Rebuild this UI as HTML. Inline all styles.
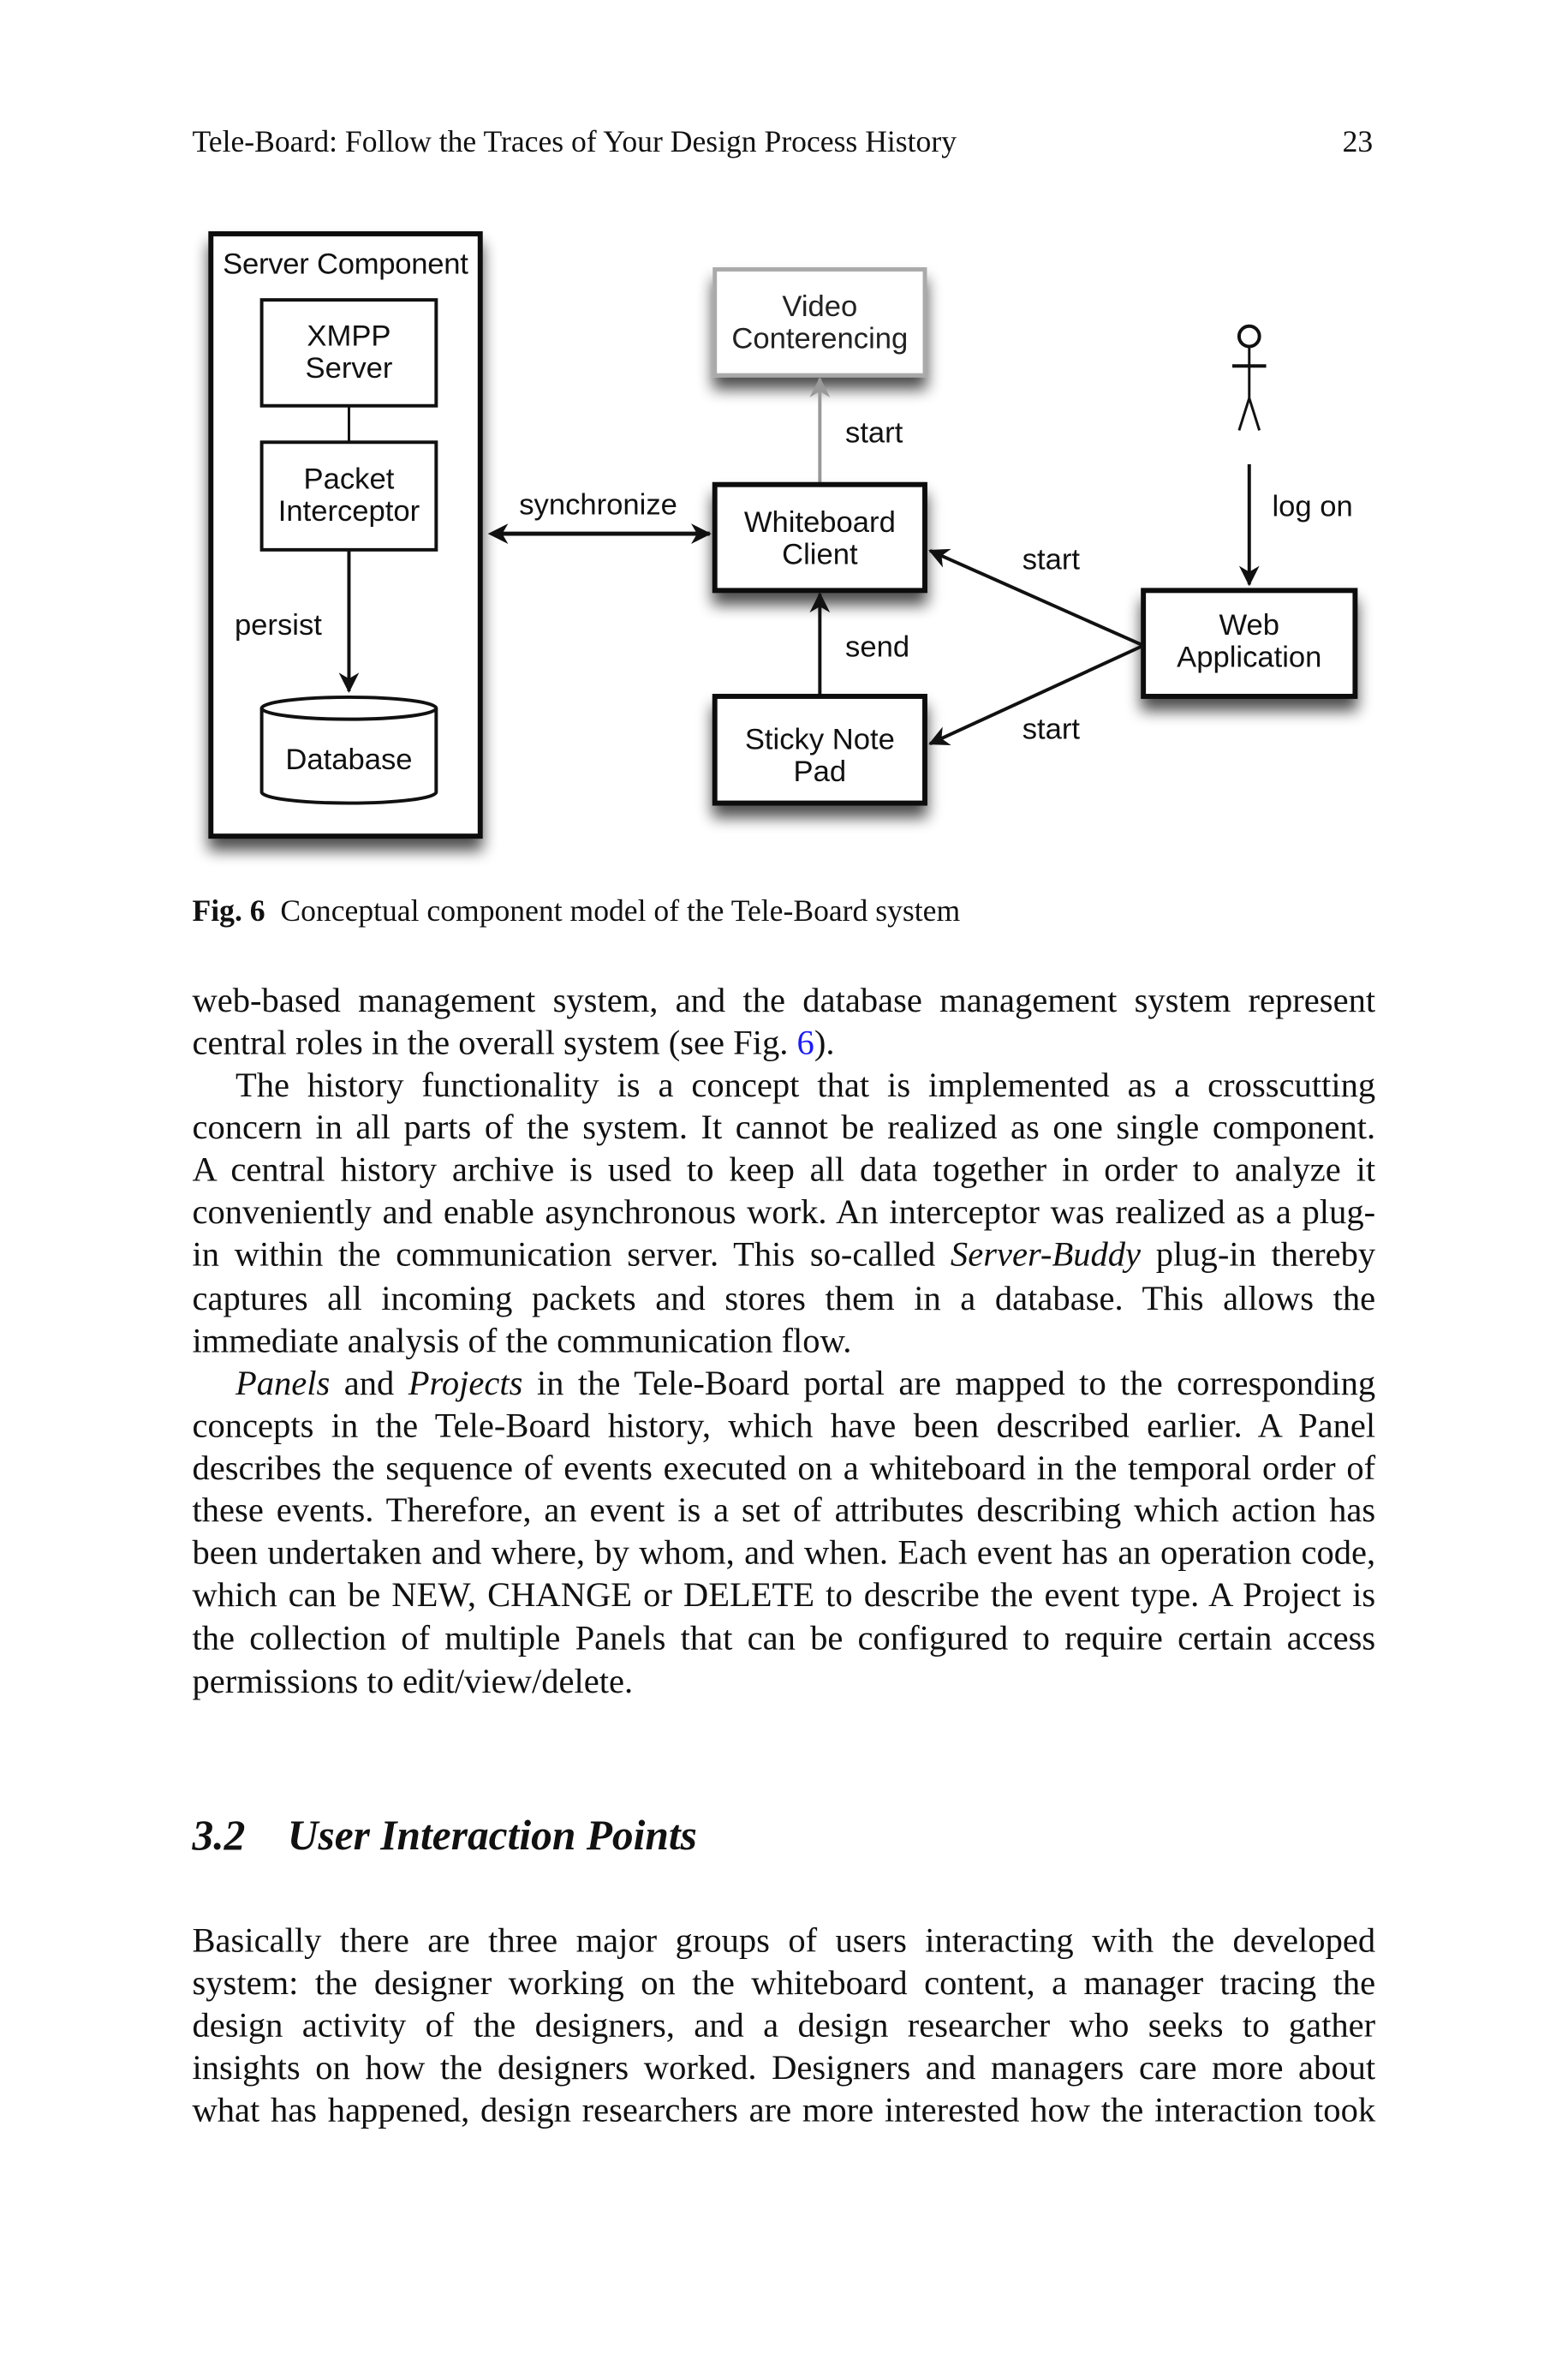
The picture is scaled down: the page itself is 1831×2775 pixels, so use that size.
<!DOCTYPE html>
<html><head><meta charset="utf-8"><style>
html,body{margin:0;padding:0;background:#fff;}
body{width:1831px;height:2775px;position:relative;overflow:hidden;font-family:"Liberation Serif",serif;color:#111;}
#w{position:absolute;left:0;top:0;width:1831px;height:2775px;transform:scale(0.989);transform-origin:0 0;}
.l{position:absolute;left:227px;width:1397px;font-size:41px;line-height:50px;height:50px;white-space:nowrap;text-align:justify;text-align-last:justify;}
.l.e{text-align-last:left;}
.i{text-indent:51px;}
.hd{position:absolute;font-size:36px;}
svg text{font-family:"Liberation Sans",sans-serif;font-size:35px;fill:#111;}
</style></head><body><div id="w">
<div class="hd" style="left:227px;top:146px;">Tele-Board: Follow the Traces of Your Design Process History</div>
<div class="hd" style="left:1585px;top:146px;">23</div>

<svg width="1831" height="1040" style="position:absolute;left:0;top:0" xmlns="http://www.w3.org/2000/svg">
<defs>
<filter id="sh" x="-20%" y="-20%" width="140%" height="150%"><feGaussianBlur in="SourceAlpha" stdDeviation="9"/><feOffset dx="0" dy="14"/><feComponentTransfer><feFuncA type="linear" slope="0.7"/></feComponentTransfer><feMerge><feMergeNode/><feMergeNode in="SourceGraphic"/></feMerge></filter>
<marker id="a" markerWidth="26" markerHeight="26" refX="22" refY="13" orient="auto" markerUnits="userSpaceOnUse"><path d="M0,1 L24,13 L0,25 L7,13 Z" fill="#111"/></marker>
<marker id="ag" markerWidth="26" markerHeight="26" refX="22" refY="13" orient="auto" markerUnits="userSpaceOnUse"><path d="M0,1 L24,13 L0,25 L7,13 Z" fill="#999"/></marker>
</defs>
<rect x="249" y="276" width="318" height="711" fill="#fff" stroke="#111" stroke-width="6" filter="url(#sh)"/>
<text x="263" y="323" textLength="290">Server Component</text>
<rect x="309" y="354" width="206" height="125" fill="#fff" stroke="#111" stroke-width="4"/>
<text x="412" y="408" text-anchor="middle">XMPP</text><text x="412" y="446" text-anchor="middle">Server</text>
<line x1="412" y1="479" x2="412" y2="522" stroke="#111" stroke-width="3"/>
<rect x="309" y="522" width="206" height="127" fill="#fff" stroke="#111" stroke-width="4"/>
<text x="412" y="577" text-anchor="middle">Packet</text><text x="412" y="615" text-anchor="middle">Interceptor</text>
<line x1="412" y1="649" x2="412" y2="816" stroke="#111" stroke-width="4" marker-end="url(#a)"/>
<text x="277" y="749">persist</text>
<path d="M309,836 L309,935 A103,13 0 0 0 515,935 L515,836" fill="#fff" stroke="#111" stroke-width="4"/>
<ellipse cx="412" cy="836" rx="103" ry="13" fill="#fff" stroke="#111" stroke-width="4"/>
<text x="412" y="908" text-anchor="middle">Database</text>

<rect x="844" y="318" width="248" height="125" fill="#fff" stroke="#aaa" stroke-width="5" filter="url(#sh)"/>
<text x="968" y="373" text-anchor="middle" style="fill:#222">Video</text><text x="968" y="411" text-anchor="middle" style="fill:#222">Conterencing</text>
<line x1="968" y1="572" x2="968" y2="447" stroke="#999" stroke-width="4" marker-end="url(#ag)"/>
<text x="998" y="522">start</text>

<line x1="584" y1="630" x2="838" y2="630" stroke="#111" stroke-width="5" marker-end="url(#a)"/>
<path d="M576,630 L600,618 L593,630 L600,642 Z" fill="#111"/>
<text x="613" y="607">synchronize</text>

<rect x="844" y="572" width="248" height="125" fill="#fff" stroke="#111" stroke-width="6" filter="url(#sh)"/>
<text x="968" y="628" text-anchor="middle">Whiteboard</text><text x="968" y="666" text-anchor="middle">Client</text>

<line x1="968" y1="822" x2="968" y2="701" stroke="#111" stroke-width="4" marker-end="url(#a)"/>
<text x="998" y="775">send</text>
<rect x="844" y="822" width="248" height="126" fill="#fff" stroke="#111" stroke-width="6" filter="url(#sh)"/>
<text x="968" y="884" text-anchor="middle">Sticky Note</text><text x="968" y="922" text-anchor="middle">Pad</text>

<rect x="1350" y="697" width="250" height="125" fill="#fff" stroke="#111" stroke-width="6" filter="url(#sh)"/>
<text x="1475" y="749" text-anchor="middle">Web</text><text x="1475" y="787" text-anchor="middle">Application</text>
<line x1="1350" y1="762" x2="1098" y2="650" stroke="#111" stroke-width="4" marker-end="url(#a)"/>
<line x1="1350" y1="762" x2="1098" y2="878" stroke="#111" stroke-width="4" marker-end="url(#a)"/>
<text x="1207" y="672">start</text>
<text x="1207" y="872">start</text>

<circle cx="1475" cy="397" r="12" fill="#fff" stroke="#111" stroke-width="4"/>
<line x1="1475" y1="409" x2="1475" y2="470" stroke="#111" stroke-width="3"/>
<line x1="1455" y1="432" x2="1495" y2="432" stroke="#111" stroke-width="4"/>
<line x1="1475" y1="470" x2="1463" y2="508" stroke="#111" stroke-width="3"/>
<line x1="1475" y1="470" x2="1487" y2="508" stroke="#111" stroke-width="3"/>
<line x1="1475" y1="548" x2="1475" y2="690" stroke="#111" stroke-width="4" marker-end="url(#a)"/>
<text x="1502" y="609">log on</text>
</svg>

<div class="hd" style="left:227px;top:1054px;"><b>Fig. 6</b>&nbsp;&nbsp;Conceptual component model of the Tele-Board system</div>

<div class="l" style="top:1155px">web-based management system, and the database management system represent</div>
<div class="l e" style="top:1205px">central roles in the overall system (see Fig. <span style="color:#1a1aff">6</span>).</div>
<div class="l i" style="top:1255px">The history functionality is a concept that is implemented as a crosscutting</div>
<div class="l" style="top:1305px">concern in all parts of the system. It cannot be realized as one single component.</div>
<div class="l" style="top:1355px">A central history archive is used to keep all data together in order to analyze it</div>
<div class="l" style="top:1405px">conveniently and enable asynchronous work. An interceptor was realized as a plug-</div>
<div class="l" style="top:1455px">in within the communication server. This so-called <i>Server-Buddy</i> plug-in thereby</div>
<div class="l" style="top:1507px">captures all incoming packets and stores them in a database. This allows the</div>
<div class="l e" style="top:1557px">immediate analysis of the communication flow.</div>
<div class="l i" style="top:1607px"><i>Panels</i> and <i>Projects</i> in the Tele-Board portal are mapped to the corresponding</div>
<div class="l" style="top:1657px">concepts in the Tele-Board history, which have been described earlier. A Panel</div>
<div class="l" style="top:1707px">describes the sequence of events executed on a whiteboard in the temporal order of</div>
<div class="l" style="top:1757px">these events. Therefore, an event is a set of attributes describing which action has</div>
<div class="l" style="top:1807px">been undertaken and where, by whom, and when. Each event has an operation code,</div>
<div class="l" style="top:1857px">which can be NEW, CHANGE or DELETE to describe the event type. A Project is</div>
<div class="l" style="top:1908px">the collection of multiple Panels that can be configured to require certain access</div>
<div class="l e" style="top:1959px">permissions to edit/view/delete.</div>

<div style="position:absolute;left:227px;top:2137px;font-size:50px;font-weight:bold;font-style:italic;">3.2&nbsp;&nbsp;&nbsp;&nbsp;User Interaction Points</div>

<div class="l" style="top:2265px">Basically there are three major groups of users interacting with the developed</div>
<div class="l" style="top:2315px">system: the designer working on the whiteboard content, a manager tracing the</div>
<div class="l" style="top:2365px">design activity of the designers, and a design researcher who seeks to gather</div>
<div class="l" style="top:2415px">insights on how the designers worked. Designers and managers care more about</div>
<div class="l" style="top:2465px">what has happened, design researchers are more interested how the interaction took</div>
</div></body></html>
